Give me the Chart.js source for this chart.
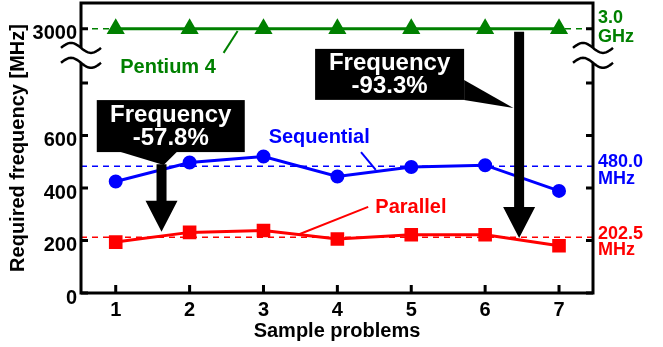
<!DOCTYPE html>
<html>
<head>
<meta charset="utf-8">
<script src="https://cdn.jsdelivr.net/npm/chart.js@4.4.1/dist/chart.umd.min.js"></script>
<style>
  html, body { margin: 0; padding: 0; background: #fff; }
</style>
</head>
<body>
<canvas id="myChart" width="663" height="347"></canvas>
<script>
// data
var problems = [1, 2, 3, 4, 5, 6, 7];
var sequential = [425, 497, 520, 444, 480, 487, 389];
var parallel = [194, 231, 238, 206, 222, 222, 180];
var pentium4 = [3000, 3000, 3000, 3000, 3000, 3000, 3000];

// dashed reference levels and their labels
var seqLevel = 483;
var parLevel = 212;
var p4Level = 3000;
var seqLevelText = ["480.0", "MHz"];
var parLevelText = ["202.5", "MHz"];
var p4LevelText = ["3.0", "GHz"];

var yTicks = [0, 200, 400, 600, 800, 3000];
var yTickLabels = ["0", "200", "400", "600", "", "3000"];

var GREEN = "#008000", BLUE = "#0000ff", RED = "#ff0000";
var FONT = "'Liberation Sans', Arial, sans-serif";

// broken y axis: everything above 1000 is shifted down
var X_MIN = 0.53, X_MAX = 7.46, Y_MAX = 1105;
function brk(v) { return v > 1000 ? v - 1993 : v; }

function pts(arr) {
  return problems.map(function (x, i) { return { x: x, y: brk(arr[i]) }; });
}
function level(v) {
  return [{ x: X_MIN, y: brk(v) }, { x: X_MAX, y: brk(v) }];
}
function dashed(v, color) {
  return {
    data: level(v), borderColor: color, borderWidth: 1.5, borderDash: [6, 5],
    pointRadius: 0, fill: false, order: 5
  };
}

var annot = {
  id: "annot",
  afterDatasetsDraw: function (chart) {
    var ctx = chart.ctx, a = chart.chartArea;
    var xs = chart.scales.x, ys = chart.scales.y;
    var px = function (v) { return xs.getPixelForValue(v); };
    var py = function (v) { return ys.getPixelForValue(v); };
    ctx.save();

    // frame
    ctx.strokeStyle = "#000";
    ctx.lineWidth = 3;
    ctx.strokeRect(a.left, a.top, a.right - a.left, a.bottom - a.top);

    // inward ticks
    ctx.lineWidth = 3;
    ctx.beginPath();
    ys.ticks.forEach(function (t) {
      var y = py(t.value);
      ctx.moveTo(a.left, y); ctx.lineTo(a.left + 7, y);
      ctx.moveTo(a.right - 7, y); ctx.lineTo(a.right, y);
    });
    xs.ticks.forEach(function (t) {
      var x = px(t.value);
      ctx.moveTo(x, a.bottom); ctx.lineTo(x, a.bottom - 8);
    });
    ctx.stroke();

    // axis break marks
    var b1 = py(934), b2 = py(877);
    [a.left, a.right].forEach(function (cx) {
      ctx.fillStyle = "#fff";
      ctx.fillRect(cx - 3, b1, 6, b2 - b1);
      ctx.strokeStyle = "#000";
      ctx.lineWidth = 2.5;
      [b1, b2].forEach(function (by) {
        ctx.beginPath();
        for (var i = 0; i <= 40; i++) {
          var t = i / 40;
          var x = cx - 20 + 40 * t, y = by - 5 * Math.sin(2 * Math.PI * t);
          if (i === 0) ctx.moveTo(x, y); else ctx.lineTo(x, y);
        }
        ctx.stroke();
      });
    });

    // series labels with leader lines
    ctx.font = "bold 20px " + FONT;
    ctx.textAlign = "center";
    ctx.textBaseline = "middle";
    var labels = [
      { text: "Pentium 4", color: GREEN, x: 1.708, y: 861, l: [2.46, 915, 2.65, 998] },
      { text: "Sequential", color: BLUE, x: 3.754, y: 591, l: [4.32, 537, 4.52, 469] },
      { text: "Parallel", color: RED, x: 4.995, y: 325, l: [4.417, 328, 3.466, 222] }
    ];
    labels.forEach(function (o) {
      ctx.fillStyle = o.color;
      ctx.fillText(o.text, px(o.x), py(o.y));
      ctx.strokeStyle = o.color;
      ctx.lineWidth = 2;
      ctx.beginPath();
      ctx.moveTo(px(o.l[0]), py(o.l[1]));
      ctx.lineTo(px(o.l[2]), py(o.l[3]));
      ctx.stroke();
    });

    // level labels on the right
    ctx.font = "bold 18px " + FONT;
    ctx.textAlign = "left";
    [
      { t: p4LevelText, v: brk(p4Level), c: GREEN, o: [-11, 8] },
      { t: seqLevelText, v: seqLevel, c: BLUE, o: [-4, 13] },
      { t: parLevelText, v: parLevel, c: RED, o: [-3, 13] }
    ].forEach(function (o) {
      ctx.fillStyle = o.c;
      ctx.fillText(o.t[0], a.right + 5, py(o.v) + o.o[0]);
      ctx.fillText(o.t[1], a.right + 5, py(o.v) + o.o[1]);
    });

    // big arrows
    ctx.fillStyle = "#000";
    [
      { x: 1.62, top: py(491), tip: py(233) },
      { x: 6.46, top: py(brk(p4Level)) + 3, tip: py(210) }
    ].forEach(function (o) {
      var x = px(o.x), hl = 31, hw = 16, sw = 5;
      ctx.beginPath();
      ctx.moveTo(x - sw, o.top);
      ctx.lineTo(x + sw, o.top);
      ctx.lineTo(x + sw, o.tip - hl);
      ctx.lineTo(x + hw, o.tip - hl);
      ctx.lineTo(x, o.tip);
      ctx.lineTo(x - hw, o.tip - hl);
      ctx.lineTo(x - sw, o.tip - hl);
      ctx.closePath();
      ctx.fill();
    });

    // callouts
    var callouts = [
      { lines: ["Frequency", "-57.8%"], x: 1.745, y: 636, w: 148, h: 52,
        tail: function (l, t, r, b) { return [[l + 24, b], [px(1.649), py(488)], [l + 80, b]]; } },
      { lines: ["Frequency", "-93.3%"], x: 4.707, y: 833, w: 149, h: 51,
        tail: function (l, t, r, b) { return [[r, b - 20], [px(6.383), py(705)], [r, b]]; } }
    ];
    ctx.font = "bold 24px " + FONT;
    ctx.textAlign = "center";
    callouts.forEach(function (o) {
      var cx = px(o.x), cy = py(o.y);
      var l = cx - o.w / 2, t = cy - o.h / 2, r = cx + o.w / 2, b = cy + o.h / 2;
      ctx.fillStyle = "#000";
      ctx.fillRect(l, t, o.w, o.h);
      var tp = o.tail(l, t, r, b);
      ctx.beginPath();
      ctx.moveTo(tp[0][0], tp[0][1]);
      ctx.lineTo(tp[1][0], tp[1][1]);
      ctx.lineTo(tp[2][0], tp[2][1]);
      ctx.closePath();
      ctx.fill();
      ctx.fillStyle = "#fff";
      ctx.fillText(o.lines[0], cx, cy - 11);
      ctx.fillText(o.lines[1], cx, cy + 12);
    });

    ctx.restore();
  }
};

var ctx = document.getElementById("myChart");
var myChart = new Chart(ctx, {
  type: "line",
  data: {
    datasets: [
      dashed(p4Level, GREEN),
      dashed(seqLevel, BLUE),
      dashed(parLevel, RED),
      {
        label: "Pentium 4", data: pts(pentium4), borderColor: GREEN, backgroundColor: GREEN,
        borderWidth: 3, pointStyle: "triangle", pointRadius: 7.5, order: 1
      },
      {
        label: "Sequential", data: pts(sequential), borderColor: BLUE, backgroundColor: BLUE,
        borderWidth: 3, pointStyle: "circle", pointRadius: 5.5, order: 1
      },
      {
        label: "Parallel", data: pts(parallel), borderColor: RED, backgroundColor: RED,
        borderWidth: 3, pointStyle: "rect", pointRadius: 7.5, order: 1
      }
    ]
  },
  options: {
    responsive: false,
    animation: false,
    layout: { autoPadding: false, padding: { top: 3, right: 70, left: 0, bottom: 0 } },
    plugins: { legend: { display: false }, tooltip: { enabled: false } },
    scales: {
      x: {
        type: "linear", min: X_MIN, max: X_MAX,
        afterBuildTicks: function (s) { s.ticks = problems.map(function (v) { return { value: v }; }); },
        afterFit: function (s) { s.height = 54; },
        grid: { display: false, drawTicks: false },
        border: { display: false },
        ticks: { color: "#000", font: { family: FONT, size: 20, weight: "bold" }, padding: 5 },
        title: {
          display: true, text: "Sample problems", color: "#000",
          font: { family: FONT, size: 20, weight: "bold" }, padding: { top: 0, bottom: 4 }
        }
      },
      y: {
        type: "linear", min: 0, max: Y_MAX,
        afterBuildTicks: function (s) { s.ticks = yTicks.map(function (v) { return { value: brk(v) }; }); },
        // fixed width; the top label sits well inside, so no extra top padding
        afterFit: function (s) { s.width = 81; s.paddingTop = 0; },
        grid: { display: false, drawTicks: false },
        border: { display: false },
        ticks: {
          color: "#000", font: { family: FONT, size: 20, weight: "bold" }, padding: 4,
          labelOffset: 5,
          callback: function (v, i) { return yTickLabels[i]; }
        },
        title: {
          display: true, text: "Required frequency [MHz]", color: "#000",
          font: { family: FONT, size: 20, weight: "bold" }, padding: { top: 6, bottom: 0 }
        }
      }
    }
  },
  plugins: [annot]
});
</script>
</body>
</html>
